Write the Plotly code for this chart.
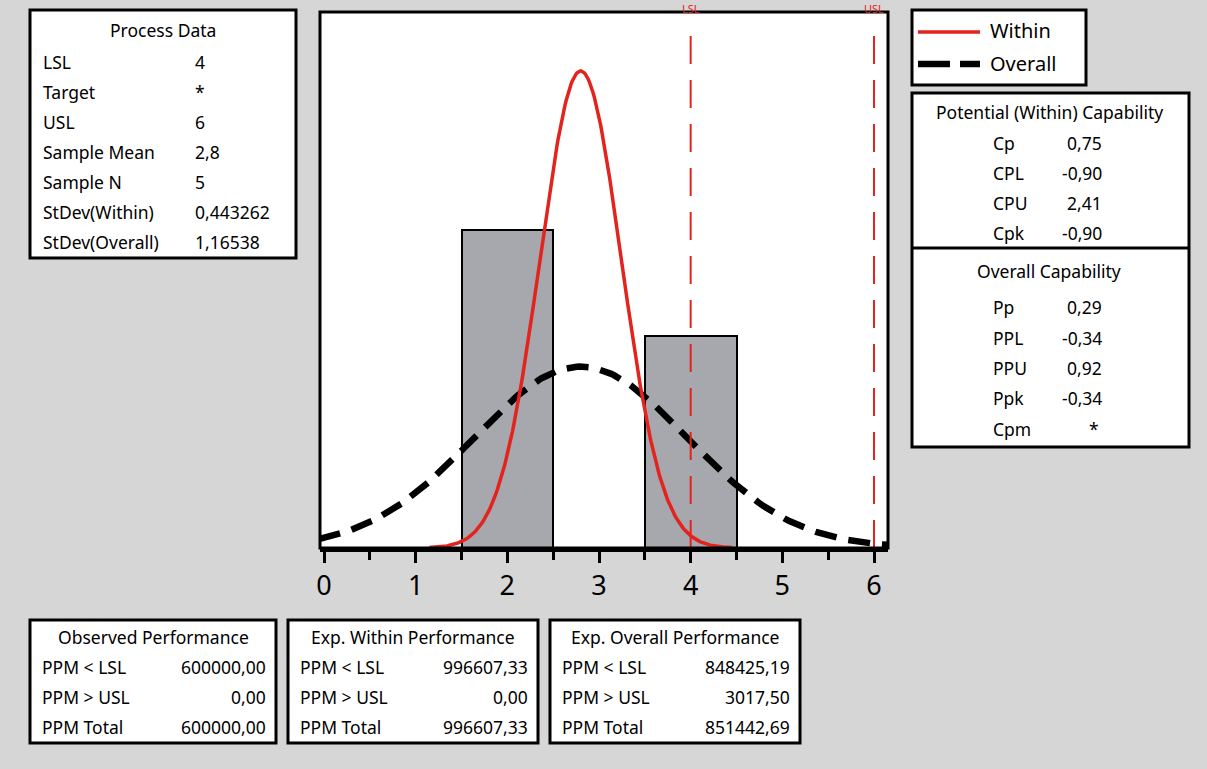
import numpy as np
import plotly.graph_objects as go

# ---------------- data ----------------
bin_centers = [2, 4]
bin_counts = [3, 2]
sample_n = 5
bin_width = 1.0
lsl, usl = 4, 6
sample_mean = 2.8
stdev_within = 0.443262
stdev_overall = 1.16538
tick_vals = [0, 1, 2, 3, 4, 5, 6]

process_labels = ["LSL", "Target", "USL", "Sample Mean", "Sample N", "StDev(Within)", "StDev(Overall)"]
process_values = ["4", "*", "6", "2,8", "5", "0,443262", "1,16538"]

within_labels = ["Cp", "CPL", "CPU", "Cpk"]
within_values = ["0,75", "-0,90", "2,41", "-0,90"]
overall_labels = ["Pp", "PPL", "PPU", "Ppk", "Cpm"]
overall_values = ["0,29", "-0,34", "0,92", "-0,34", "*"]

perf_titles = ["Observed Performance", "Exp. Within Performance", "Exp. Overall Performance"]
perf_labels = ["PPM < LSL", "PPM > USL", "PPM Total"]
perf_values = [
    ["600000,00", "0,00", "600000,00"],
    ["996607,33", "0,00", "996607,33"],
    ["848425,19", "3017,50", "851442,69"],
]

# ---------------- layout geometry (pixels) ----------------
W, H = 1207, 769
PL, PR, PT, PB = 320, 888, 12, 548
FONT = "Noto Sans"
FS = 17.5


def px(x):
    return (x - PL) / (PR - PL)


def py(y):
    return (PB - y) / (PB - PT)


fig = go.Figure()

# histogram bars
fig.add_trace(go.Bar(x=bin_centers, y=bin_counts, width=bin_width,
                     marker=dict(color="#a7a7ae", line=dict(color="black", width=2)),
                     showlegend=False, hoverinfo="skip"))

# normal curves scaled to counts
def curve(mu, sd, k=3.72, n=300):
    xs = np.linspace(mu - k * sd, mu + k * sd, n)
    ys = sample_n * bin_width * np.exp(-0.5 * ((xs - mu) / sd) ** 2) / (sd * np.sqrt(2 * np.pi))
    return xs, ys

xo, yo = curve(sample_mean, stdev_overall)
fig.add_trace(go.Scatter(x=xo, y=yo, mode="lines",
                         line=dict(color="black", width=6.5, dash="22px,12px"),
                         showlegend=False, hoverinfo="skip"))
xw, yw = curve(sample_mean, stdev_within)
fig.add_trace(go.Scatter(x=xw, y=yw, mode="lines",
                         line=dict(color="#e3231d", width=3.5),
                         showlegend=False, hoverinfo="skip"))

shapes = []
annotations = []

# spec lines
for v, name in [(lsl, "LSL"), (usl, "USL")]:
    shapes.append(dict(type="line", xref="x", yref="paper", x0=v, x1=v, y0=0, y1=py(20),
                       line=dict(color="#e3231d", width=2, dash="28px,16px")))
    annotations.append(dict(x=v, y=py(0), xref="x", yref="paper", text=name, showarrow=False,
                            font=dict(family=FONT, size=11, color="#e3231d"), yanchor="top",
                            borderpad=0))

# plot frame
shapes.append(dict(type="rect", xref="paper", yref="paper", x0=0, x1=1, y0=0, y1=1,
                   line=dict(color="black", width=3), layer="above"))


def box(x0, y0, x1, y1):
    shapes.append(dict(type="rect", xref="paper", yref="paper", x0=px(x0), x1=px(x1),
                       y0=py(y1), y1=py(y0), fillcolor="white", line=dict(color="black", width=3),
                       layer="below"))


def text(x, y, s, anchor="left", size=FS):
    annotations.append(dict(x=px(x), y=py(y), xref="paper", yref="paper", text=s, showarrow=False,
                            xanchor=anchor, yanchor="middle", borderpad=0,
                            font=dict(family=FONT, size=size, color="black")))


# Process Data box
box(30, 10, 296, 258)
text(163, 30, "Process Data", "center")
for i, (lab, val) in enumerate(zip(process_labels, process_values)):
    yy = 62 + i * 30
    text(42, yy, lab)
    text(194, yy, val)

# Legend box
box(912, 10, 1086, 85)
shapes.append(dict(type="line", xref="paper", yref="paper", x0=px(918), x1=px(980), y0=py(32), y1=py(32),
                   line=dict(color="#e3231d", width=3.5)))
shapes.append(dict(type="line", xref="paper", yref="paper", x0=px(918), x1=px(980), y0=py(64), y1=py(64),
                   line=dict(color="black", width=6.5, dash="32px,10px")))
text(989, 31, "Within", size=20)
text(989, 64, "Overall", size=20)

# Capability box
box(912, 93, 1189, 447)
shapes.append(dict(type="line", xref="paper", yref="paper", x0=px(912), x1=px(1189), y0=py(248), y1=py(248),
                   line=dict(color="black", width=3)))
text(1049, 112, "Potential (Within) Capability", "center")
for i, (lab, val) in enumerate(zip(within_labels, within_values)):
    yy = 143 + i * 30
    text(992, yy, lab)
    text(1103, yy, val, "right")
text(1049, 271, "Overall Capability", "center")
for i, (lab, val) in enumerate(zip(overall_labels, overall_values)):
    yy = 307 + i * 30.5
    text(992, yy, lab)
    text(1103 if val != "*" else 1100, yy, val, "right")

# Performance boxes
for k, (bx0, bx1) in enumerate([(30, 276), (288, 538), (550, 800)]):
    box(bx0, 620, bx1, 743)
    text((bx0 + bx1) / 2, 637, perf_titles[k], "center")
    for i, lab in enumerate(perf_labels):
        yy = 667 + i * 30
        text(bx0 + 11, yy, lab)
        text(bx1 - 9, yy, perf_values[k][i], "right")

ppu = (874 - 324) / 6.0
x_lo = 0 - (324 - PL) / ppu
x_hi = 6 + (PR - 874) / ppu
y_hi = (PB - PT) / 106.0

fig.update_layout(
    width=W, height=H,
    margin=dict(l=PL, r=W - PR, t=PT, b=H - PB, pad=0),
    paper_bgcolor="#d6d6d6", plot_bgcolor="white",
    shapes=shapes, annotations=annotations,
    showlegend=False, bargap=0,
    font=dict(family=FONT),
    xaxis=dict(range=[x_lo, x_hi], tickvals=tick_vals, showgrid=False, zeroline=False,
               showline=True, linecolor="black", linewidth=4,
               ticks="outside", ticklen=11, tickwidth=3, tickcolor="black",
               minor=dict(dtick=0.5, ticks="outside", ticklen=8, tickwidth=3, tickcolor="black"),
               tickfont=dict(family=FONT, size=27, color="black")),
    yaxis=dict(range=[0, y_hi], showgrid=False, zeroline=False, showticklabels=False,
               ticks="", showline=False),
)

fig.write_html("out.html", config={"displayModeBar": False},
               post_script="document.body.style.margin='0px';document.body.style.overflow='hidden';")
